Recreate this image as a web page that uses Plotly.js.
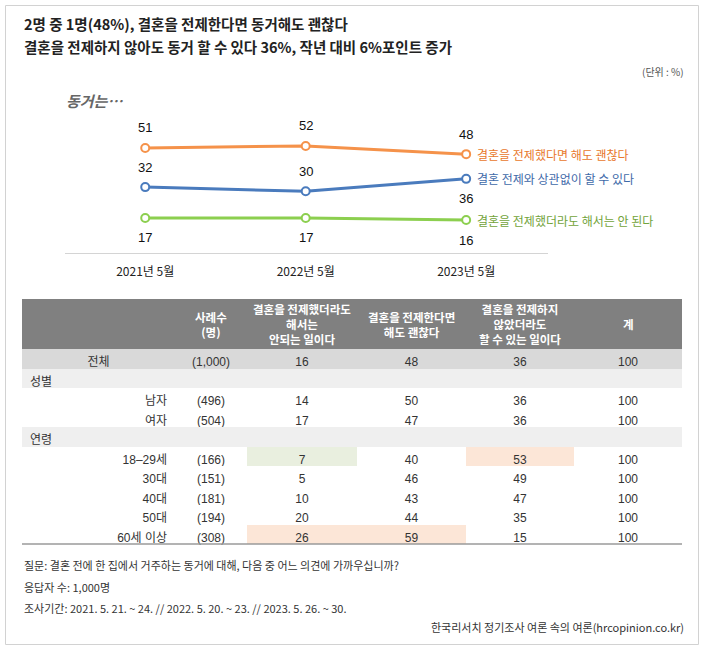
<!DOCTYPE html>
<html>
<head>
<meta charset="utf-8">
<script src="https://cdn.plot.ly/plotly-3.0.1.min.js"></script>
<style>
html,body{margin:0;padding:0;background:#fff;}
#chart{width:704px;height:651px;}
</style>
</head>
<body>
<div id="chart"></div>
<script>
// ---------- data ----------
const years = ['2021년 5월', '2022년 5월', '2023년 5월'];
const seriesNames = ['결혼을 전제했다면 해도 괜찮다', '결혼 전제와 상관없이 할 수 있다', '결혼을 전제했더라도 해서는 안 된다'];
const okIfMarriage = [51, 52, 48];
const okRegardless = [32, 30, 36];
const notEvenIfMarriage = [17, 17, 16];

const tableHeader = ['', '사례수<br>(명)', '결혼을 전제했더라도<br>해서는<br>안되는 일이다', '결혼을 전제한다면<br>해도 괜찮다', '결혼을 전제하지<br>않았더라도<br>할 수 있는 일이다', '계'];
const rowLabels = ['전체', '성별', '남자', '여자', '연령', '18–29세', '30대', '40대', '50대', '60세 이상'];
const sampleSize = ['(1,000)', '', '(496)', '(504)', '', '(166)', '(151)', '(181)', '(194)', '(308)'];
const colNotEven = ['16', '', '14', '17', '', '7', '5', '10', '20', '26'];
const colOkIf = ['48', '', '50', '47', '', '40', '46', '43', '44', '59'];
const colOkAny = ['36', '', '36', '36', '', '53', '49', '47', '35', '15'];
const colTotal = ['100', '', '100', '100', '', '100', '100', '100', '100', '100'];

const footerLines = [
  '질문: 결혼 전에 한 집에서 거주하는 동거에 대해, 다음 중 어느 의견에 가까우십니까?',
  '응답자 수: 1,000명',
  '조사기간: 2021. 5. 21. ~ 24. // 2022. 5. 20. ~ 23. // 2023. 5. 26. ~ 30.'
];
const sourceText = '한국리서치 정기조사 여론 속의 여론(hrcopinion.co.kr)';

// ---------- helpers ----------
const W = 704, H = 651;
const px = p => p / W;
const py = p => 1 - p / H;
const KR = "'Noto Sans CJK KR', sans-serif";
const NUM = "'Liberation Sans', 'Noto Sans CJK KR', sans-serif";

const styles = [
  {line: '#f5924a', text: '#e8782c', above: [true, true, true]},
  {line: '#4a7bbd', text: '#3e69a8', above: [true, true, false]},
  {line: '#8ccf4f', text: '#72a33a', above: [false, false, false]}
];
const seriesData = [okIfMarriage, okRegardless, notEvenIfMarriage];

const traces = seriesData.map((vals, i) => ({
  type: 'scatter', mode: 'lines+markers',
  x: years, y: vals, xaxis: 'x', yaxis: 'y',
  line: {color: styles[i].line, width: 3},
  marker: {symbol: 'circle', size: 8, color: '#ffffff', line: {color: styles[i].line, width: 2}},
  hoverinfo: 'skip', cliponaxis: false
}));

// ---------- table ----------
const TABLE_LEFT = 22, TABLE_TOP = 299, HEADER_H = 50, ROW_H = 19.5;
const colWidths = [153, 72, 110, 109, 108, 108];
const rowFill = rowLabels.map((l, r) => r === 0 ? '#d9d9d9' : (sampleSize[r] === '' ? '#efefef' : '#ffffff'));
const GREEN = '#e9efdf', PEACH = '#fce6d7';
function colFill(hl) { return rowFill.map((c, r) => hl[r] || c); }
const idx1829 = rowLabels.indexOf('18–29세');
const idx60 = rowLabels.indexOf('60세 이상');
const fills = [
  rowFill, rowFill,
  colFill({[idx1829]: GREEN, [idx60]: PEACH}),
  colFill({[idx60]: PEACH}),
  colFill({[idx1829]: PEACH}),
  rowFill
];
const labelAlign = rowLabels.map((l, r) => r === 0 ? 'center' : (sampleSize[r] === '' ? 'left' : 'right'));
const tableRight = TABLE_LEFT + colWidths.reduce((a, b) => a + b, 0);

traces.push({
  type: 'table',
  domain: {x: [px(TABLE_LEFT), px(tableRight)], y: [py(600), py(TABLE_TOP)]},
  columnwidth: colWidths,
  header: {
    values: tableHeader.map(() => ''),
    fill: {color: '#808080'},
    line: {width: 0, color: '#808080'},
    font: {family: KR, size: 11, color: '#ffffff'},
    height: HEADER_H
  },
  cells: {
    values: [rowLabels, sampleSize, colNotEven, colOkIf, colOkAny, colTotal],
    fill: {color: fills},
    line: {width: 0, color: '#ffffff'},
    font: {family: NUM, size: 12, color: '#333333'},
    align: [labelAlign, 'center', 'center', 'center', 'center', 'center'],
    height: ROW_H
  }
});

// ---------- annotations ----------
const ann = [];
ann.push({xref: 'paper', yref: 'paper', x: px(22), y: py(24), xanchor: 'left', yanchor: 'middle', showarrow: false,
  text: '2명 중 1명(48%), 결혼을 전제한다면 동거해도 괜찮다', font: {family: KR, size: 14.5, color: '#222', weight: 'bold'}});
ann.push({xref: 'paper', yref: 'paper', x: px(22), y: py(47), xanchor: 'left', yanchor: 'middle', showarrow: false,
  text: '결혼을 전제하지 않아도 동거 할 수 있다 36%, 작년 대비 6%포인트 증가', font: {family: KR, size: 14.5, color: '#222', weight: 'bold'}});
ann.push({xref: 'paper', yref: 'paper', x: px(686), y: py(71), xanchor: 'right', yanchor: 'middle', showarrow: false,
  text: '(단위 : %)', font: {family: KR, size: 10, color: '#555'}});
ann.push({xref: 'paper', yref: 'paper', x: px(64), y: py(100), xanchor: 'left', yanchor: 'middle', showarrow: false,
  text: '<i>동거는…</i>', font: {family: KR, size: 15, color: '#666', weight: 'bold'}});

// header labels, centered in their columns
let cx = TABLE_LEFT;
tableHeader.forEach((t, c) => {
  const center = cx + colWidths[c] / 2;
  cx += colWidths[c];
  if (!t) return;
  ann.push({xref: 'paper', yref: 'paper', x: px(center), y: py(TABLE_TOP + HEADER_H / 2), xanchor: 'center', yanchor: 'middle',
    align: 'center', showarrow: false, text: t, font: {family: KR, size: 11.5, color: '#ffffff', weight: 'bold'}});
});

seriesData.forEach((vals, i) => {
  vals.forEach((v, j) => {
    ann.push({xref: 'x', yref: 'y', x: years[j], y: v, showarrow: false, yanchor: 'middle',
      yshift: styles[i].above[j] ? 20 : -20, text: String(v),
      font: {family: NUM, size: 13, color: '#111'}});
  });
  ann.push({xref: 'x', yref: 'y', x: years[years.length - 1], y: vals[vals.length - 1], showarrow: false,
    xanchor: 'left', yanchor: 'middle', xshift: 9, text: seriesNames[i],
    font: {family: KR, size: 12, color: styles[i].text}});
});

footerLines.forEach((t, k) => {
  ann.push({xref: 'paper', yref: 'paper', x: px(22), y: py(565 + k * 21.5), xanchor: 'left', yanchor: 'middle', showarrow: false,
    text: t, font: {family: KR, size: 11, color: '#333'}});
});
ann.push({xref: 'paper', yref: 'paper', x: px(686), y: py(627), xanchor: 'right', yanchor: 'middle', showarrow: false,
  text: sourceText, font: {family: KR, size: 11, color: '#333'}});

const tableBottom = TABLE_TOP + HEADER_H + ROW_H * rowLabels.length;

// ---------- layout ----------
const layout = {
  width: W, height: H,
  margin: {l: 0, r: 0, t: 0, b: 0},
  paper_bgcolor: '#ffffff', plot_bgcolor: 'rgba(0,0,0,0)',
  showlegend: false,
  xaxis: {
    domain: [px(65), px(548)], type: 'category', range: [-0.5, 2.51],
    showgrid: false, zeroline: false, showline: true, linecolor: '#d4d4d4', linewidth: 1,
    ticks: '', ticklabelstandoff: 8, fixedrange: true,
    tickfont: {family: KR, size: 12, color: '#222'}
  },
  yaxis: {
    domain: [py(253), py(100)], range: [0, 74.3],
    showgrid: false, zeroline: false, showline: false, showticklabels: false, fixedrange: true
  },
  shapes: [
    {type: 'rect', xref: 'paper', yref: 'paper', x0: px(5.5), x1: px(698.5), y0: py(644.5), y1: py(5.5),
      line: {color: '#d2d2d2', width: 1}, fillcolor: 'rgba(0,0,0,0)'},
    {type: 'line', xref: 'paper', yref: 'paper', x0: px(TABLE_LEFT), x1: px(tableRight), y0: py(tableBottom), y1: py(tableBottom),
      line: {color: '#9a9a9a', width: 1.5}}
  ],
  annotations: ann
};

Plotly.newPlot('chart', traces, layout, {displayModeBar: false, staticPlot: true});
</script>
</body>
</html>
